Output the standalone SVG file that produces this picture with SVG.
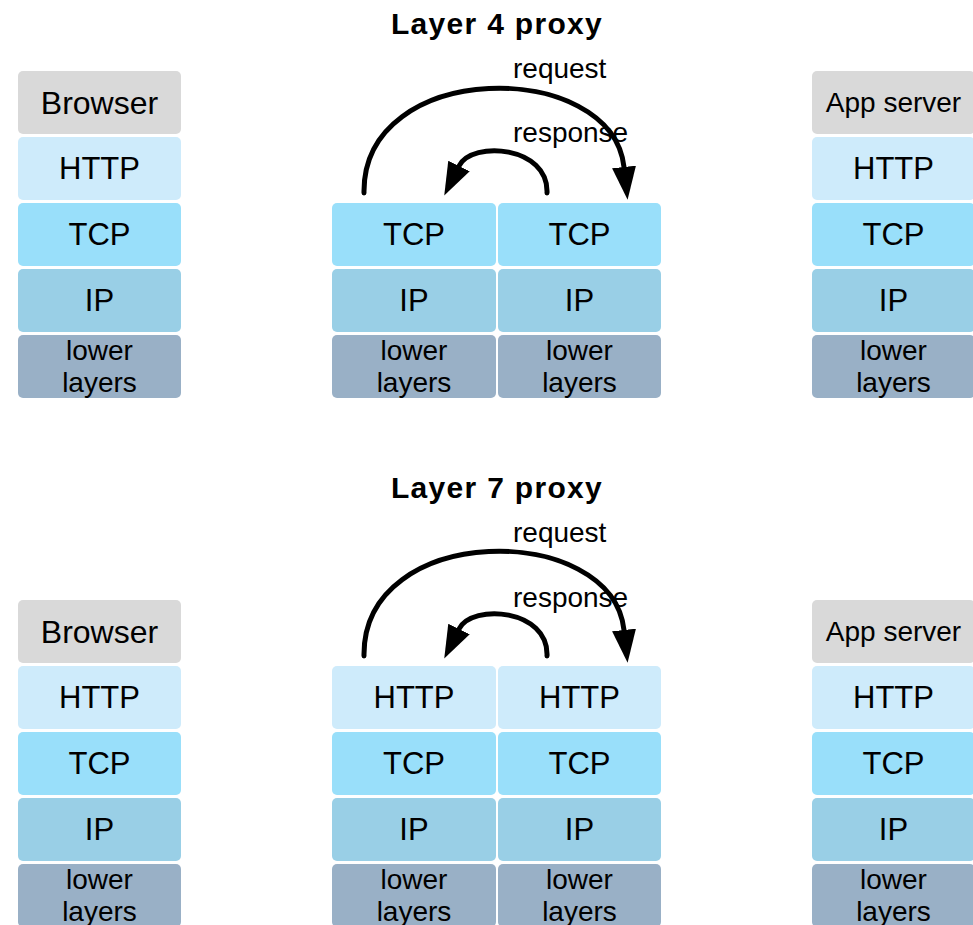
<svg xmlns="http://www.w3.org/2000/svg" width="973" height="925" viewBox="0 0 973 925">
<defs>
<style>
.gray{fill:#d9d9d9}
.http{fill:#ceebfb}
.tcp{fill:#99dffa}
.ip{fill:#99cfe6}
.low{fill:#99b0c6}
rect{rx:5;ry:5}
text{font-family:"Liberation Sans",Arial,Helvetica,sans-serif;fill:#000;text-anchor:middle}
.t{font-size:31px}
.b{font-size:32px}
.s{font-size:28px}
.l{font-size:28px}
.title{font-size:30px;font-weight:bold;letter-spacing:1.3px}
.lab{font-size:28px;text-anchor:start}
.arc{fill:none;stroke:#000;stroke-width:5;stroke-linecap:round}
</style>
<marker id="ah" markerUnits="userSpaceOnUse" markerWidth="34" markerHeight="26" viewBox="0 0 34 26" refX="0" refY="13" orient="auto">
<path d="M0,1 L33,13 L0,25 z" fill="#000"/>
</marker>
</defs>
<rect x="0" y="0" width="973" height="925" fill="#fff" style="rx:0"/>

<!-- Titles -->
<text id="title4" class="title" x="497" y="34">Layer 4 proxy</text>
<text id="title7" class="title" x="497" y="498">Layer 7 proxy</text>

<!-- ===== Layer 4 ===== -->
<g id="l4-browser">
<rect class="gray" x="18" y="71" width="163" height="63"/><text class="b" x="99.5" y="114">Browser</text>
<rect class="http" x="18" y="137" width="163" height="63"/><text class="t" x="99.5" y="179">HTTP</text>
<rect class="tcp" x="18" y="203" width="163" height="63"/><text class="t" x="99.5" y="245">TCP</text>
<rect class="ip" x="18" y="269" width="163" height="63"/><text class="t" x="99.5" y="311">IP</text>
<rect class="low" x="18" y="335" width="163" height="63"/><text class="l" x="99.5" y="360">lower</text><text class="l" x="99.5" y="392">layers</text>
</g>
<g id="l4-proxy-left">
<rect class="tcp" x="332" y="203" width="164" height="63"/><text class="t" x="414" y="245">TCP</text>
<rect class="ip" x="332" y="269" width="164" height="63"/><text class="t" x="414" y="311">IP</text>
<rect class="low" x="332" y="335" width="164" height="63"/><text class="l" x="414" y="360">lower</text><text class="l" x="414" y="392">layers</text>
</g>
<g id="l4-proxy-right">
<rect class="tcp" x="498" y="203" width="163" height="63"/><text class="t" x="579.5" y="245">TCP</text>
<rect class="ip" x="498" y="269" width="163" height="63"/><text class="t" x="579.5" y="311">IP</text>
<rect class="low" x="498" y="335" width="163" height="63"/><text class="l" x="579.5" y="360">lower</text><text class="l" x="579.5" y="392">layers</text>
</g>
<g id="l4-appserver">
<rect class="gray" x="812" y="71" width="163" height="63"/><text class="s" x="893.5" y="112">App server</text>
<rect class="http" x="812" y="137" width="163" height="63"/><text class="t" x="893.5" y="179">HTTP</text>
<rect class="tcp" x="812" y="203" width="163" height="63"/><text class="t" x="893.5" y="245">TCP</text>
<rect class="ip" x="812" y="269" width="163" height="63"/><text class="t" x="893.5" y="311">IP</text>
<rect class="low" x="812" y="335" width="163" height="63"/><text class="l" x="893.5" y="360">lower</text><text class="l" x="893.5" y="392">layers</text>
</g>

<!-- ===== Layer 7 ===== -->
<g id="l7-browser">
<rect class="gray" x="18" y="600" width="163" height="63"/><text class="b" x="99.5" y="643">Browser</text>
<rect class="http" x="18" y="666" width="163" height="63"/><text class="t" x="99.5" y="708">HTTP</text>
<rect class="tcp" x="18" y="732" width="163" height="63"/><text class="t" x="99.5" y="774">TCP</text>
<rect class="ip" x="18" y="798" width="163" height="63"/><text class="t" x="99.5" y="840">IP</text>
<rect class="low" x="18" y="864" width="163" height="63"/><text class="l" x="99.5" y="889">lower</text><text class="l" x="99.5" y="921">layers</text>
</g>
<g id="l7-proxy-left">
<rect class="http" x="332" y="666" width="164" height="63"/><text class="t" x="414" y="708">HTTP</text>
<rect class="tcp" x="332" y="732" width="164" height="63"/><text class="t" x="414" y="774">TCP</text>
<rect class="ip" x="332" y="798" width="164" height="63"/><text class="t" x="414" y="840">IP</text>
<rect class="low" x="332" y="864" width="164" height="63"/><text class="l" x="414" y="889">lower</text><text class="l" x="414" y="921">layers</text>
</g>
<g id="l7-proxy-right">
<rect class="http" x="498" y="666" width="163" height="63"/><text class="t" x="579.5" y="708">HTTP</text>
<rect class="tcp" x="498" y="732" width="163" height="63"/><text class="t" x="579.5" y="774">TCP</text>
<rect class="ip" x="498" y="798" width="163" height="63"/><text class="t" x="579.5" y="840">IP</text>
<rect class="low" x="498" y="864" width="163" height="63"/><text class="l" x="579.5" y="889">lower</text><text class="l" x="579.5" y="921">layers</text>
</g>
<g id="l7-appserver">
<rect class="gray" x="812" y="600" width="163" height="63"/><text class="s" x="893.5" y="641">App server</text>
<rect class="http" x="812" y="666" width="163" height="63"/><text class="t" x="893.5" y="708">HTTP</text>
<rect class="tcp" x="812" y="732" width="163" height="63"/><text class="t" x="893.5" y="774">TCP</text>
<rect class="ip" x="812" y="798" width="163" height="63"/><text class="t" x="893.5" y="840">IP</text>
<rect class="low" x="812" y="864" width="163" height="63"/><text class="l" x="893.5" y="889">lower</text><text class="l" x="893.5" y="921">layers</text>
</g>

<!-- Connectors -->
<g id="connectors">
<path class="arc" d="M364,193 C362,58 612,58 624,167" marker-end="url(#ah)"/>
<path class="arc" d="M547,193 C549,146 472,140 459,166" marker-end="url(#ah)"/>
<path class="arc" d="M364,656 C362,521 612,521 624,630" marker-end="url(#ah)"/>
<path class="arc" d="M547,656 C549,609 472,603 459,629" marker-end="url(#ah)"/>
<text class="lab" x="513" y="78">request</text>
<text class="lab" x="513" y="142">response</text>
<text class="lab" x="513" y="542">request</text>
<text class="lab" x="513" y="607">response</text>
</g>
</svg>
